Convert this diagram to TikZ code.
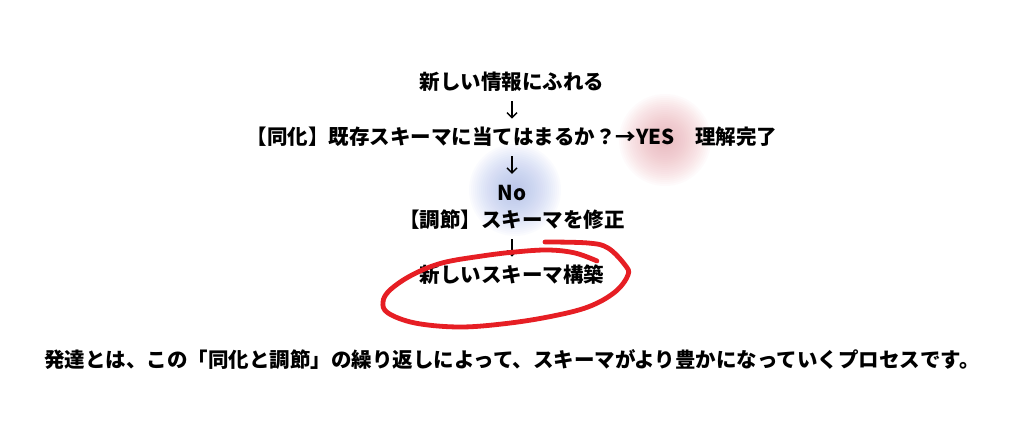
\documentclass[tikz,border=0pt]{standalone}
\usepackage{fontspec}
\newfontfamily\jpfont{Noto Sans CJK JP}
\usetikzlibrary{positioning, arrows.meta}
\definecolor{blobred}{RGB}{232,160,168}
\definecolor{blobblue}{RGB}{160,178,235}
\definecolor{markred}{RGB}{230,30,36}

\begin{document}
\begin{tikzpicture}[x=1pt, y=-1pt, rec/.style={inner sep=0pt, outer sep=0, text height=16.4pt, text depth=0.8pt, font=\jpfont\bfseries\fontsize{20.5}{24}\selectfont}, darr/.style={-{Straight Barb[length=5pt, width=10pt]}, line width=1.4pt, shorten <=10.5pt, shorten >=10pt}]

          \fill[white] (0,0) rectangle (1024,427);
          \useasboundingbox (0,0) rectangle (1024,427);

          % soft highlights
          \foreach \r in {2,4,...,46} {
            \fill[blobred, opacity=0.045] (665,140) circle (\r pt);
            \fill[blobblue, opacity=0.045] (515,190) circle (\r pt);
          }

          \node[rec] at (512,82) (info) {新しい情報にふれる};
          \node[rec, below=38pt of info](assim) {【同化】既存スキーマに当てはまるか？→YES　理解完了};
          \node[rec, below=38pt of assim](no) {No};
          \node[rec, below=10.4pt of no](accom) {【調節】スキーマを修正};
          \node[rec, below=38pt of accom](newschema) {新しいスキーマ構築};
          \node[rec, below=67.6pt of newschema](summary) {発達とは、この「同化と調節」の繰り返しによって、スキーマがより豊かになっていくプロセスです。};

          \draw[darr](info) -- (assim);
          \draw[darr](assim) -- (no);
          \draw[darr](accom) -- (newschema);

          % hand-drawn loop
          \draw[markred, line width=4.8pt, line cap=round] plot[smooth, tension=0.6] coordinates {(545,242) (588,243) (608,248) (625,265) (628,275) (615,292) (588,307) (548,317) (502,324) (458,327) (415,323) (388,313) (383,302) (390,290) (412,275) (442,263) (482,256) (515,252) (548,250) (575,253) (597,261)};

      \end{tikzpicture}
\end{document}
